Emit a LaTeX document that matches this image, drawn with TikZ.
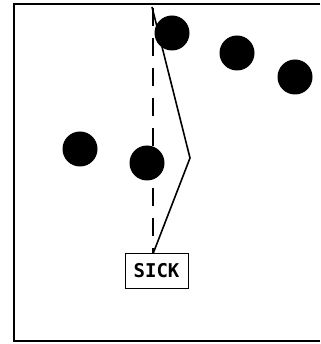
\documentclass[tikz,border=0pt]{standalone}
\usepackage{fontspec}
\newfontfamily\boxfont{DejaVu Sans Mono}
\begin{document}
\begin{tikzpicture}[x=1pt,y=-1pt,
  dot/.style={circle,fill=black,minimum size=35pt,inner sep=0pt},
  label/.style={draw=black,line width=1pt,fill=white,minimum width=63pt,minimum height=35pt,inner sep=0pt,font=\boxfont\bfseries\fontsize{19}{19}\selectfont},
  frame/.style={line width=2pt},
  path/.style={line width=1.6pt},
  dashline/.style={line width=2pt,dash pattern=on 18pt off 12pt}]
\useasboundingbox (0,0) rectangle (320,344);
\draw[frame] (320,4) -- (14,4) -- (14,341) -- (320,341);
\coordinate (top) at (152,7);
\coordinate (dtop) at (153,8);
\coordinate (bend) at (190,158);
\node[dot] (d1) at (172,33) {};
\node[dot] (d2) at (237,53) {};
\node[dot] (d3) at (295,77) {};
\node[dot] (d4) at (80,149) {};
\node[dot] (d5) at (147,163) {};
\node[label] (sick) at (156.5,270.5) {SICK};
\draw[dashline] (dtop) -- (dtop |- sick.north);
\draw[path] (top) -- (bend) -- ([xshift=-3pt]sick.north);
\end{tikzpicture}
\end{document}
